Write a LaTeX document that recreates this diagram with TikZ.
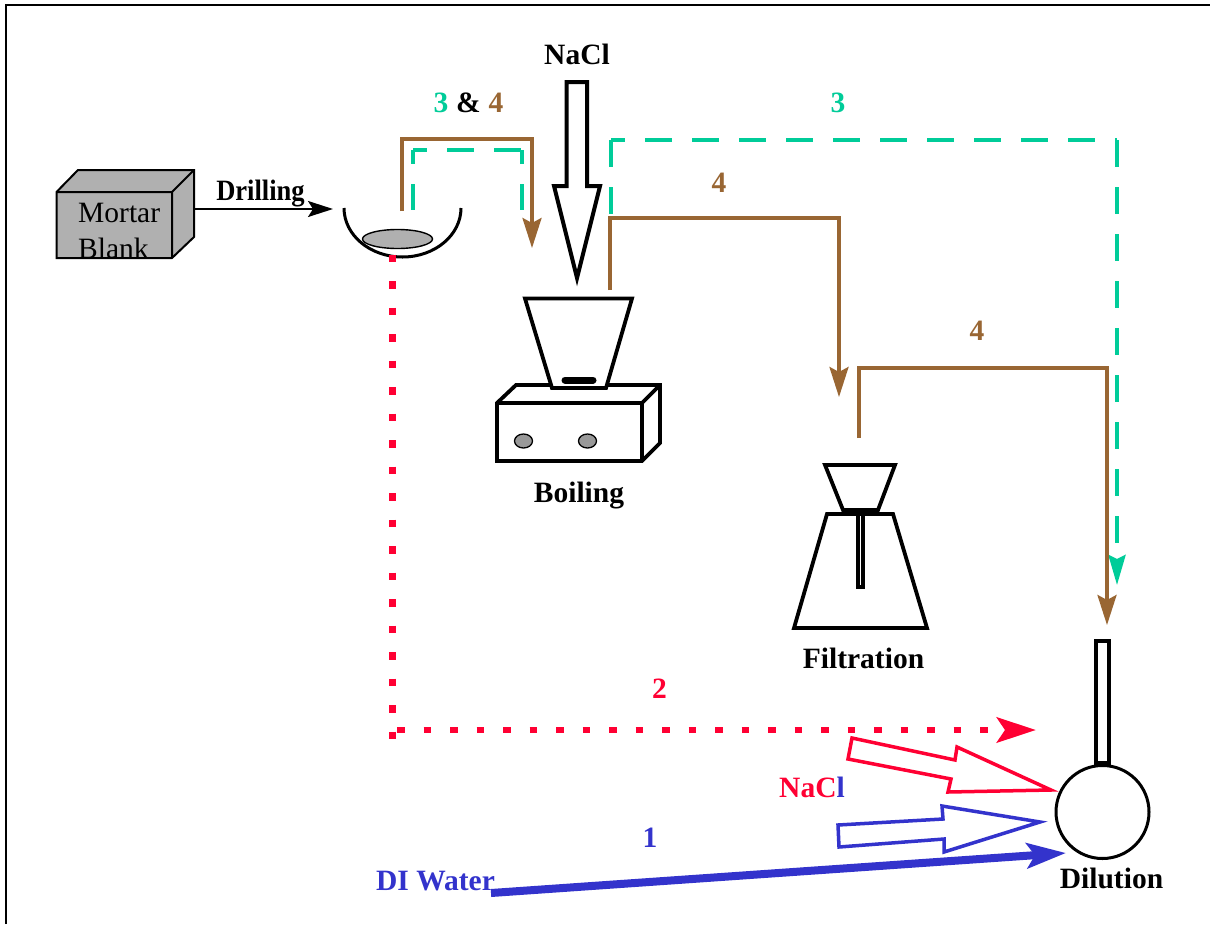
\documentclass[tikz,border=0pt]{standalone}
\usepackage{fontspec}
\setmainfont{Liberation Serif}
\usetikzlibrary{arrows.meta,shapes.geometric}
\definecolor{tgreen}{HTML}{00CC99}
\definecolor{tbrown}{HTML}{996633}
\definecolor{tred}{HTML}{FF0033}
\definecolor{tblue}{HTML}{3333CC}
\definecolor{tgray}{HTML}{B0B0B0}
\definecolor{kgray}{HTML}{999999}
\tikzset{
  x=1pt,y=-1pt,
  lbl/.style={inner sep=0pt,font=\fontsize{29.5}{29.5}\selectfont\bfseries,anchor=base},
  plain/.style={inner sep=0pt,font=\fontsize{29.5}{29.5}\selectfont,anchor=base west},
  kit/.style={draw=black,line width=3.8pt,line join=miter,fill=white},
  brownline/.style={draw=tbrown,line width=3.4pt,line join=miter,-{Stealth[length=30pt,width=19pt,inset=5pt,fill=tbrown]}},
  hollow/.style={fill=white,line width=3.5pt,line join=miter},
  knob/.style={draw=black,fill=kgray,line width=1.3pt,ellipse,minimum width=18pt,minimum height=14pt,inner sep=0pt},
  greenline/.style={draw=tgreen,line width=4pt,dash pattern=on 27pt off 20pt},
}
\begin{document}
\begin{tikzpicture}
\useasboundingbox (0,0) rectangle (1210,924);
\fill[white] (0,0) rectangle (1210,924);
\draw[line width=2pt] (6,924) -- (6,5) -- (1210,5);

% mortar block
\draw[fill=tgray,line width=2pt,line join=miter] (56.5,192) -- (78,170) -- (194,170) -- (194,237) -- (172,258) -- (56.5,258) -- cycle;
\draw[line width=2pt] (56.5,192) -- (172,192) -- (172,258) (172,192) -- (194,170);
\node[plain] (mortar) at (78,222) {Mortar};
\node[plain] (blank) at (78,258) {Blank};
\coordinate (blockE) at (194,209);
\coordinate (bowlW) at (333,209);
\draw[line width=2pt,-{Stealth[length=25pt,width=16pt,inset=5pt]}] (blockE) -- (bowlW);
\node[lbl] (drilling) at (260.5,200) {\scalebox{0.9}[1]{Drilling}};

% bowl
\draw[line width=3pt] (344,208) .. controls (344,235) and (370,257) .. (402.5,257) .. controls (435,257) and (461,235) .. (461,208);
\node[draw=black,fill=tgray,line width=1.4pt,ellipse,minimum width=70pt,minimum height=19pt,inner sep=0pt] (sample) at (397.5,239) {};

% 3 & 4 loop
\coordinate (a1) at (402,211);
\coordinate (a2) at (402,139);
\coordinate (a3) at (532,139);
\coordinate (a4) at (532,248);
\draw[brownline] (a1) -- (a2) -- (a3) -- (a4);
\coordinate (b1) at (413,210);
\coordinate (b2) at (413,150);
\coordinate (b3) at (522,150);
\coordinate (b4) at (522,210);
\draw[greenline,dash phase=13pt] (b2) -- (b3);
\draw[greenline,dash phase=13pt] (b2) -- (b1);
\draw[greenline,dash phase=13pt] (b3) -- (b4);
\node[lbl,text=tgreen] (l3a) at (441,112) {3};
\node[lbl] (lamp) at (468.5,112) {\&};
\node[lbl,text=tbrown] (l4a) at (496,112) {4};

% NaCl top arrow
\node[lbl] (naclTop) at (577,64) {NaCl};
\draw[draw=black,line width=4pt,fill=white,line join=miter] (566.5,82) -- (587,82) -- (587,186) -- (600,186) -- (577,278) -- (554,186) -- (566.5,186) -- cycle;

% boiling kit
\draw[kit] (497,403) -- (516,385) -- (660,385) -- (660,443) -- (642,461) -- (497,461) -- cycle;
\draw[line width=3.8pt] (497,403) -- (642,403) -- (642,461) (642,403) -- (660,385);
\draw[kit] (525,298.5) -- (632,298.5) -- (606,388) -- (552,388) -- cycle;
\draw[line width=7pt,line cap=round] (565,380) -- (593,380);
\node[knob] (k1) at (523.5,441) {};
\node[knob] (k2) at (587.5,441) {};
\node[lbl] (boiling) at (579,502) {Boiling};

% green long line
\coordinate (c1) at (611,216);
\coordinate (c2) at (611,140);
\coordinate (c3) at (1117,140);
\coordinate (c4) at (1117,585);
\draw[greenline,dash phase=13pt] (c2) -- (c3);
\draw[greenline,-{Stealth[length=30pt,width=17pt,inset=4pt,fill=tgreen]}] (c3) -- (c4);
\draw[greenline] (c2) -- (c1);
\node[lbl,text=tgreen] (l3b) at (838,112) {3};

% brown to filter
\coordinate (d1) at (610,290);
\coordinate (d2) at (610,218);
\coordinate (d3) at (839,218);
\coordinate (d4) at (839,397);
\draw[brownline] (d1) -- (d2) -- (d3) -- (d4);
\node[lbl,text=tbrown] (l4b) at (719,192) {4};

% brown to dilution
\coordinate (e1) at (859,438);
\coordinate (e2) at (859,368);
\coordinate (e3) at (1107,368);
\coordinate (e4) at (1107,625);
\draw[brownline] (e1) -- (e2) -- (e3) -- (e4);
\node[lbl,text=tbrown] (l4c) at (977,340) {4};

% filter kit
\draw[kit] (827,514) -- (893,514) -- (927,628) -- (794,628) -- cycle;
\draw[draw=black,line width=3.2pt,fill=white] (858,514) rectangle (863,587);
\draw[kit] (825,465) -- (895,465) -- (878,510) -- (843,510) -- cycle;
\node[lbl] (filtration) at (863.5,668) {Filtration};

% dilution flask
\draw[draw=black,line width=3.5pt,fill=white] (1096,641) rectangle (1109,763);
\node[draw=black,line width=3pt,circle,fill=white,minimum size=93pt,inner sep=0pt] (flask) at (1102.5,812) {};
\node[lbl] (dilution) at (1111.5,888) {Dilution};

% red dotted
\coordinate (f1) at (392.5,254.5);
\coordinate (f2) at (392.5,738.5);
\draw[draw=tred,line width=7pt,dash pattern=on 7.5pt off 19pt] (f1) -- (f2);
\coordinate (g1) at (397,730);
\coordinate (g2) at (1036,730);
\draw[draw=tred,line width=6.5pt,dash pattern=on 7.5pt off 19pt,-{Stealth[length=39pt,width=25pt,inset=8pt,fill=tred]}] (g1) -- (g2);
\node[lbl,text=tred] (l2) at (659.5,698) {2};

% red hollow arrow
\draw[draw=tred,hollow] (852,738) -- (955,760) -- (957,747) -- (1051,790) -- (948,792) -- (951,779) -- (848,759) -- cycle;
\node[lbl] (naclLow) at (812,797) {\textcolor{tred}{NaC}\textcolor{tblue}{l}};

% blue hollow arrow
\draw[draw=tblue,hollow] (838,825) -- (943,819) -- (942,806) -- (1040,822) -- (944,852) -- (944,839) -- (839,847) -- cycle;
\node[lbl,text=tblue] (l1) at (650,847) {1};

% DI water
\node[lbl,text=tblue] (water) at (435.5,890) {DI Water};
\coordinate (w1) at (491,893);
\coordinate (w2) at (1066,853);
\draw[draw=tblue,line width=8pt,-{Stealth[length=39pt,width=25pt,inset=8pt,fill=tblue]}] (w1) -- (w2);
\end{tikzpicture}
\end{document}
